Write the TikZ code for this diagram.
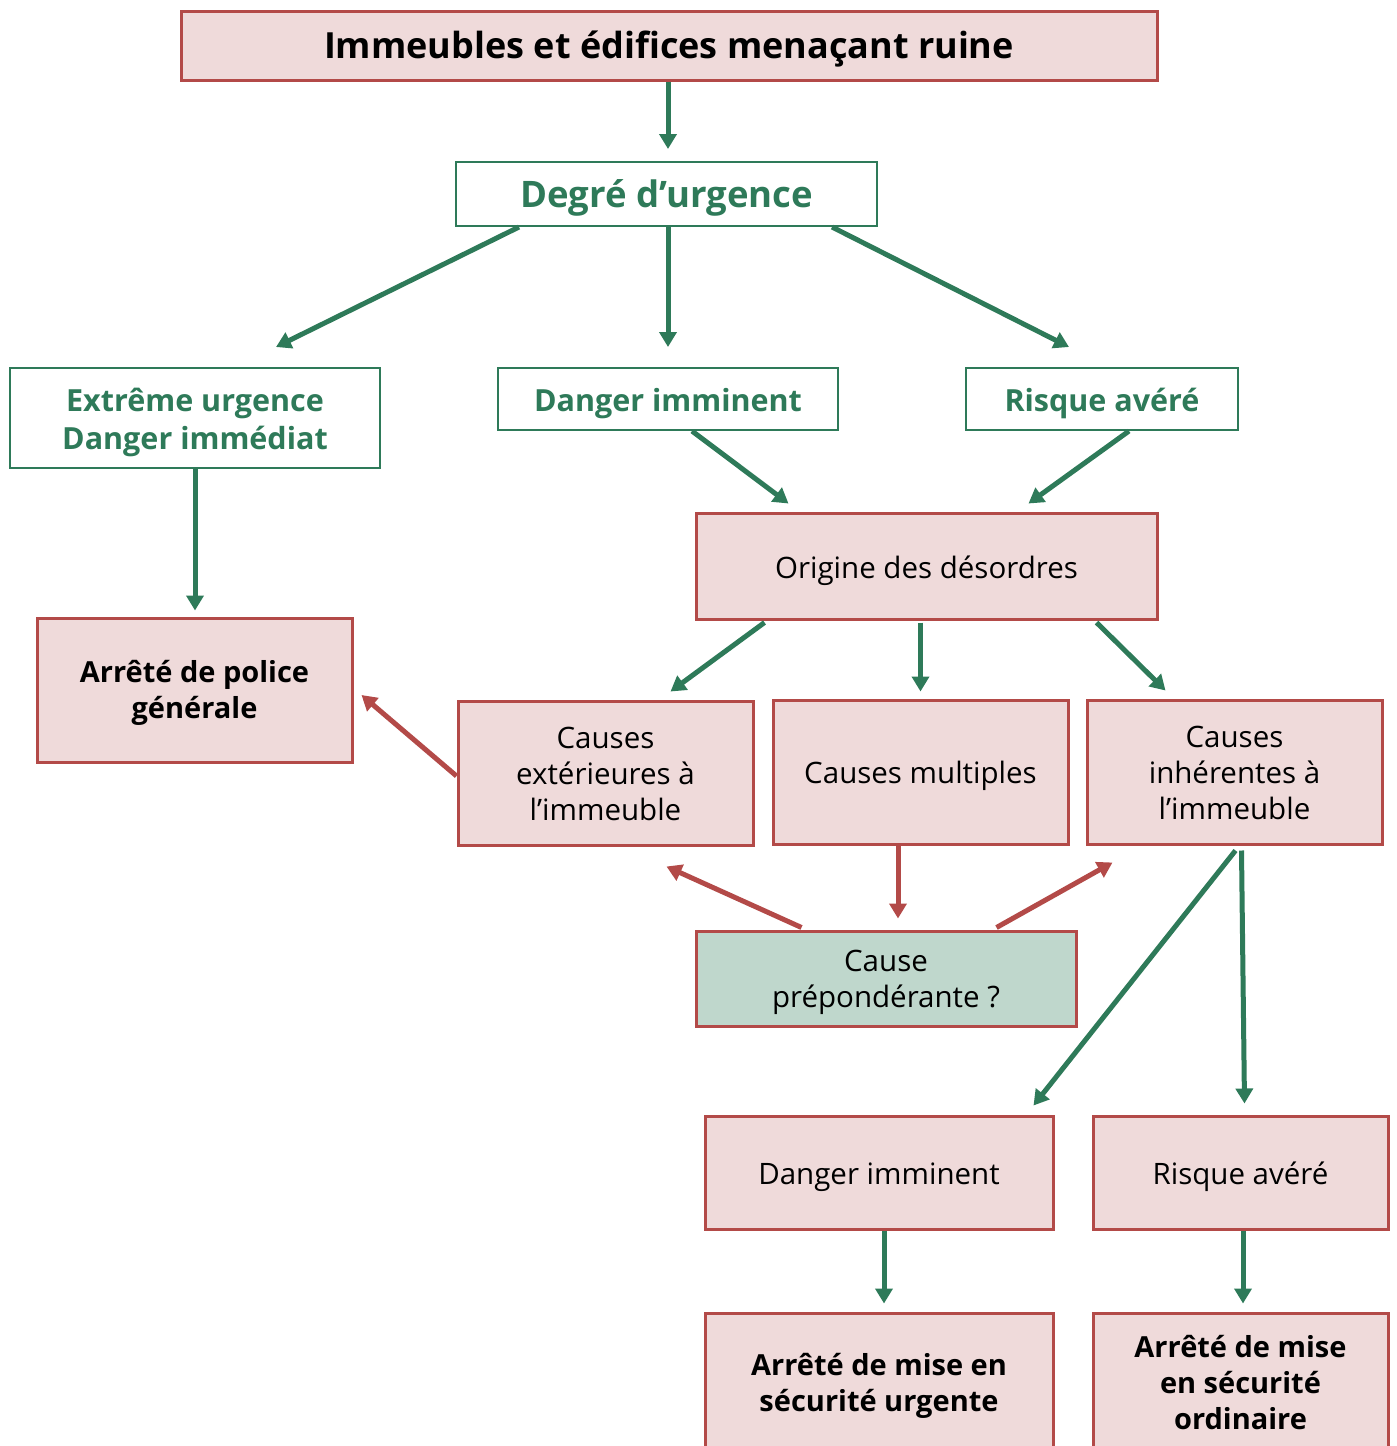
\documentclass[tikz,border=0pt]{standalone}
\usepackage{fontspec}
\setmainfont{Open Sans}
\usetikzlibrary{arrows.meta,calc}
\definecolor{rb}{RGB}{179,74,72}
\definecolor{pk}{RGB}{239,218,218}
\definecolor{gr}{RGB}{46,122,89}
\definecolor{gf}{RGB}{191,215,204}
\newcommand\lowtxt[2][4pt]{\raisebox{-#1}[\height][\depth]{\begin{tabular}{@{}c@{}}#2\end{tabular}}}
\begin{document}
\begin{tikzpicture}[x=1pt,y=-1pt,
  redbox/.style={draw=rb,fill=pk,line width=3pt,align=center,inner sep=0pt,font=\fontsize{29.5}{36}\selectfont},
  redbold/.style={redbox,font=\fontsize{29}{36}\selectfont\bfseries},
  grbox/.style={draw=gr,fill=white,line width=2pt,align=center,inner sep=0pt,text=gr,font=\fontsize{30.5}{38}\selectfont\bfseries},
  garr/.style={draw=gr,line width=5pt,-{Triangle[width=17pt,length=15pt]}},
  rarr/.style={draw=rb,line width=5pt,-{Triangle[width=17pt,length=15pt]}}]
\useasboundingbox (0,0) rectangle (1397,1446);
\node[redbox,minimum width=976,minimum height=69,font=\fontsize{36}{40}\selectfont\bfseries] (title) at (669,45.5) {\lowtxt[5pt]{Immeubles et édifices menaçant ruine}};
\node[grbox,minimum width=421,minimum height=64,font=\fontsize{36.5}{40}\selectfont\bfseries] (degre) at (666.5,194) {\lowtxt[5pt]{Degré d’urgence}};
\node[grbox,minimum width=370,minimum height=100] (ext) at (195,418) {\lowtxt[5pt]{Extrême urgence\\Danger immédiat}};
\node[grbox,minimum width=340,minimum height=62] (dig) at (668,399) {\lowtxt[5pt]{Danger imminent}};
\node[grbox,minimum width=272,minimum height=62] (rag) at (1102,399) {\lowtxt[5pt]{Risque avéré}};
\node[redbox,minimum width=461,minimum height=106] (orig) at (926.5,566) {\lowtxt[5pt]{Origine des désordres}};
\node[redbold,minimum width=315,minimum height=144] (police) at (194.5,690) {\lowtxt[3pt]{Arrêté de police\\générale}};
\node[redbox,minimum width=295,minimum height=144] (cext) at (605.5,773) {\lowtxt[4pt]{Causes\\extérieures à\\l’immeuble}};
\node[redbox,minimum width=295,minimum height=144] (cmul) at (920.5,772) {\lowtxt[4pt]{Causes multiples}};
\node[redbox,minimum width=295,minimum height=144] (cinh) at (1234.5,772) {\lowtxt[4pt]{Causes\\inhérentes à\\l’immeuble}};
\node[redbox,fill=gf,minimum width=380,minimum height=95] (cpre) at (886,978.5) {\lowtxt[4pt]{Cause\\prépondérante ?}};
\node[redbox,minimum width=348,minimum height=113] (dir) at (879,1172.5) {\lowtxt[5pt]{Danger imminent}};
\node[redbox,minimum width=295,minimum height=113] (rar) at (1240.5,1172.5) {\lowtxt[5pt]{Risque avéré}};
\node[redbold,minimum width=348,minimum height=150] (amsu) at (879,1388) {\lowtxt[-2pt]{Arrêté de mise en\\sécurité urgente}};
\node[redbold,minimum width=295,minimum height=150] (amso) at (1240.5,1388) {\lowtxt[-2pt]{Arrêté de mise\\en sécurité\\ordinaire}};
% green arrows
\draw[garr] (title.south -| 668,0) -- ($(degre.north -| 668,0)+(0,-12)$);
\draw[garr] ($(degre.south west)+(64,0)$) -- ($(ext.north west)+(267,-20)$);
\draw[garr] (degre.south -| 668,0) -- ($(dig.north)+(0,-20)$);
\draw[garr] ($(degre.south west)+(377,0)$) -- ($(rag.north west)+(104,-20)$);
\draw[garr] (ext.south) -- ($(police.north)+(0.5,-6)$);
\draw[garr] ($(dig.south west)+(195,0)$) -- ($(orig.north west)+(94,-8)$);
\draw[garr] ($(rag.south west)+(164,0)$) -- ($(orig.north west)+(334,-8)$);
\draw[garr] ($(orig.south west)+(70,2)$) -- ($(cext.north west)+(214,-8)$);
\draw[garr] ($(orig.south west)+(226,2)$) -- ($(cmul.north west)+(149,-7)$);
\draw[garr] ($(orig.south west)+(402,2)$) -- ($(cinh.north west)+(80,-8)$);
\draw[garr] ($(cinh.south west)+(150,5)$) -- ($(dir.north west)+(330,-9)$);
\draw[garr] ($(cinh.south west)+(156,5)$) -- ($(rar.north west)+(153,-11)$);
\draw[garr] (dir.south -| 884,0) -- ($(amsu.north -| 884,0)+(0,-8)$);
\draw[garr] (rar.south -| 1243,0) -- ($(amso.north -| 1243,0)+(0,-8)$);
% red arrows
\draw[rarr] ($(cext.west)+(0,3)$) -- ($(police.east)+(8,5)$);
\draw[rarr] (cmul.south -| 898,0) -- ($(cpre.north -| 898,0)+(0,-11)$);
\draw[rarr] ($(cpre.north west)+(107,-2)$) -- ($(cext.south west)+(210,20)$);
\draw[rarr] ($(cpre.north west)+(302,-2)$) -- ($(cinh.south west)+(27,17)$);
\end{tikzpicture}
\end{document}
